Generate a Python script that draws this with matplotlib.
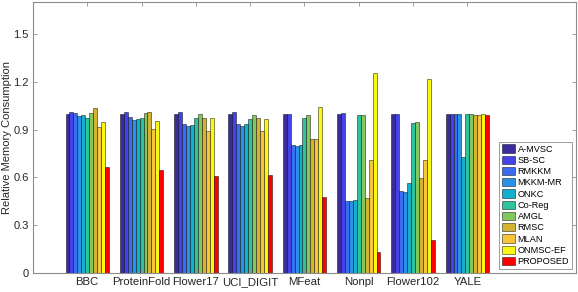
import numpy as np
import matplotlib
matplotlib.use('Agg')
import matplotlib.pyplot as plt

plt.rcParams['font.family'] = ['Liberation Sans', 'DejaVu Sans']

# 数据集
datasets = ['BBC', 'ProteinFold', 'Flower17', 'UCI_DIGIT', 'MFeat', 'Nonpl', 'Flower102', 'YALE']
# 方法
methods = ['A-MVSC', 'SB-SC', 'RMKKM', 'MKKM-MR', 'ONKC', 'Co-Reg', 'AMGL', 'RMSC', 'MLAN', 'ONMSC-EF', 'PROPOSED']

# 每个方法在各数据集上的相对内存
a_mvsc = [1.00, 1.00, 1.00, 1.00, 1.00, 1.00, 1.00, 1.00]
sb_sc = [1.01, 1.008, 1.01, 1.01, 1.00, 1.004, 1.00, 1.00]
rmkkm = [1.004, 0.981, 0.938, 0.936, 0.804, 0.454, 0.512, 0.998]
mkkm_mr = [0.988, 0.963, 0.92, 0.92, 0.794, 0.454, 0.51, 0.996]
onkc = [0.992, 0.967, 0.93, 0.936, 0.804, 0.458, 0.562, 0.731]
co_reg = [0.973, 0.975, 0.975, 0.967, 0.975, 0.994, 0.944, 0.996]
amgl = [1.004, 1.002, 0.998, 0.992, 0.994, 0.992, 0.948, 0.998]
rmsc = [1.038, 1.008, 0.97, 0.97, 0.838, 0.469, 0.594, 0.994]
mlan = [0.917, 0.904, 0.89, 0.888, 0.838, 0.712, 0.706, 0.99]
onmsc_ef = [0.948, 0.952, 0.973, 0.967, 1.044, 1.254, 1.217, 0.998]
proposed = [0.667, 0.644, 0.61, 0.614, 0.48, 0.13, 0.21, 0.992]

values = [a_mvsc, sb_sc, rmkkm, mkkm_mr, onkc, co_reg, amgl, rmsc, mlan, onmsc_ef, proposed]

colors = ['#3a2c9c', '#4444e6', '#3c6cf2', '#2a92e6', '#12b0cc', '#2fc29e',
          '#82c85e', '#d4b232', '#f8c43a', '#f8f812', '#ff0000']

yticks = [0, 0.3, 0.6, 0.9, 1.2, 1.5]
ytick_labels = ['0', '0.3', '0.6', '0.9', '1.2', '1.5']

fig = plt.figure(figsize=(5.78, 2.92), dpi=100)
ax = fig.add_axes([0.057, 0.065, 0.9395, 0.928])

# 分组条形图
n = len(methods)
group_w = 0.8
bar_w = group_w / n
x = np.arange(1, len(datasets) + 1)
for i in range(n):
    pos = x - group_w / 2 + bar_w * (i + 0.5)
    ax.bar(pos, values[i], width=bar_w, color=colors[i], edgecolor=(0, 0, 0, 0.55),
           linewidth=0.6, label=methods[i])

ax.set_xlim(0, 10)
ax.set_ylim(0, 1.7)
ax.set_xticks(x)
ax.set_xticklabels(datasets, fontsize=8.2)
ax.set_yticks(yticks)
ax.set_yticklabels(ytick_labels, fontsize=8)
ax.set_ylabel('Relative Memory Consumption', fontsize=8, color='#262626', labelpad=1)

# 坐标轴样式
for s in ax.spines.values():
    s.set_color('#8c8c8c')
    s.set_linewidth(0.8)
ax.tick_params(direction='in', length=3, width=0.6, color='#8c8c8c', labelcolor='#262626',
               top=True, right=True, pad=3)

leg = ax.legend(loc='lower left', bbox_to_anchor=(0.858, 0.015), fontsize=6.6,
                handlelength=1.5, handleheight=1.0, labelspacing=0.22, handletextpad=0.25,
                borderpad=0.3, borderaxespad=0, fancybox=False, framealpha=1)
leg.get_frame().set_edgecolor('#8c8c8c')
leg.get_frame().set_linewidth(0.6)

plt.savefig('out.png', dpi=100)
